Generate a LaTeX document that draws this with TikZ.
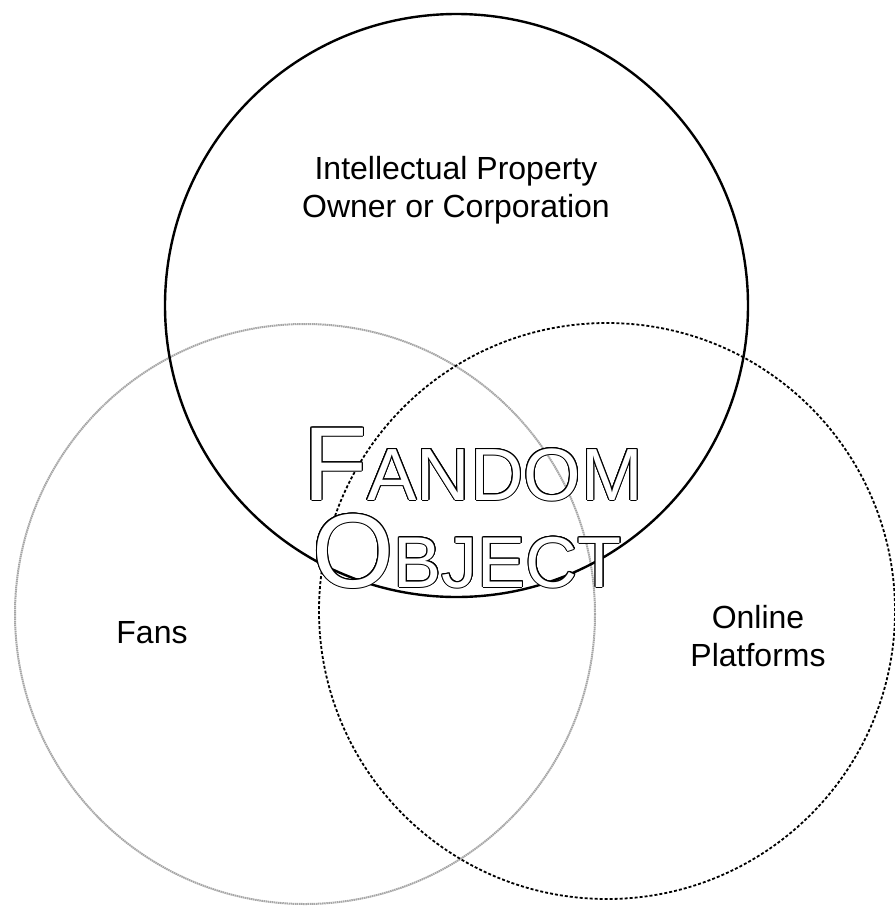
\documentclass[tikz,border=0pt]{standalone}
\usepackage{fontspec}
\setmainfont{Liberation Sans}
\usepackage{contour}
\usetikzlibrary{positioning}
\contourlength{1pt}
\tikzstyle{ring} = [circle, inner sep=0pt, outer sep=0pt]
\tikzstyle{owner} = [ring, draw=black, line width=2.4pt]
\tikzstyle{fans} = [ring, draw=gray!70, line width=2pt, dash pattern=on 1.5pt off 0.6pt]
\tikzstyle{online} = [ring, draw=black, line width=1.8pt, dash pattern=on 3pt off 2pt]
\tikzstyle{lbl} = [align=center, font=\fontsize{32}{38}\selectfont, inner sep=0pt]
\tikzstyle{big} = [anchor=base west, inner sep=0pt]
\newcommand{\hollow}[1]{\textcolor{white}{\contour{black}{#1}}}

\begin{document}
\begin{tikzpicture}[x=1pt, y=-1pt]
        \useasboundingbox (0,0) rectangle (895,906);
        % Circles
        \node (fansring) [fans, minimum size=580pt] at (305,614) {};
        \node (onlinering) [online, minimum size=576pt] at (607,611) {};
        \node (ownerring) [owner, minimum size=583pt] at (456.5,305.5) {};
        % Labels
        \node (ownertext) [lbl] at (456,190) {Intellectual Property\\Owner or Corporation};
        \node (fanstext) [lbl] at (152,633) {Fans};
        \node (onlinetext) [lbl] at (758,636) {Online\\Platforms};
        % Fandom object
        \node (fandom) [big] at (303,500) {\hollow{\fontsize{105}{105}\selectfont F}\hollow{\fontsize{74}{74}\selectfont ANDOM}};
        \node (object) [big] at (312,587) {\hollow{\fontsize{105}{105}\selectfont O}\hollow{\fontsize{72}{72}\selectfont BJECT}};
\end{tikzpicture}
\end{document}
